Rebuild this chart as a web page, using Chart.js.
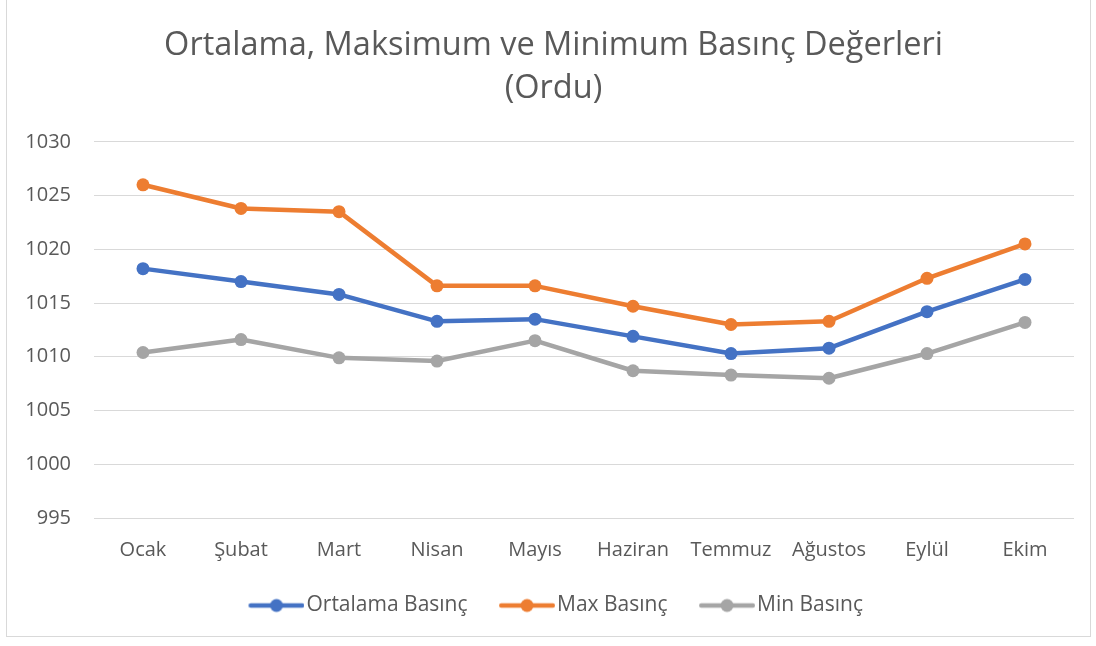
<!DOCTYPE html>
<html>
<head>
<meta charset="utf-8">
<script src="https://cdn.jsdelivr.net/npm/chart.js@4.4.1/dist/chart.umd.min.js"></script>
<style>
  html, body { margin: 0; padding: 0; background: #fff; }
  #frame { position: absolute; left: 6px; top: -1px; width: 1083px; height: 636px; border: 1px solid #d9d9d9; background: #fff; }
  #wrap { position: absolute; left: 0; top: 0; width: 1083px; height: 636px; }
</style>
</head>
<body>
<div id="frame"><div id="wrap"><canvas id="c"></canvas></div></div>
<script>
const categories = ["Ocak", "Şubat", "Mart", "Nisan", "Mayıs", "Haziran", "Temmuz", "Ağustos", "Eylül", "Ekim"];
const ortalamaBasinc = [1018.2, 1017.0, 1015.8, 1013.3, 1013.5, 1011.9, 1010.3, 1010.8, 1014.2, 1017.2];
const maxBasinc = [1026.0, 1023.8, 1023.5, 1016.6, 1016.6, 1014.7, 1013.0, 1013.3, 1017.3, 1020.5];
const minBasinc = [1010.4, 1011.6, 1009.9, 1009.6, 1011.5, 1008.7, 1008.3, 1008.0, 1010.3, 1013.2];
const seriesNames = ["Ortalama Basınç", "Max Basınç", "Min Basınç"];
const yTicks = [995, 1000, 1005, 1010, 1015, 1020, 1025, 1030];
const titleLines = ["Ortalama, Maksimum ve Minimum Basınç Değerleri", "(Ordu)"];

const colors = ["#4472C4", "#ED7D31", "#A5A5A5"];
const FONT = "'Open Sans', sans-serif";
const TEXT = "#595959";

function legendSymbol(color) {
  const cv = document.createElement('canvas');
  cv.width = 69; cv.height = 16;
  const g = cv.getContext('2d');
  g.strokeStyle = color; g.lineWidth = 4.5; g.lineCap = 'round';
  g.beginPath(); g.moveTo(15.25, 8); g.lineTo(66.75, 8); g.stroke();
  g.fillStyle = color;
  g.beginPath(); g.arc(41, 8, 6.5, 0, Math.PI * 2); g.fill();
  return cv;
}
const symbols = colors.map(legendSymbol);

const datasets = [ortalamaBasinc, maxBasinc, minBasinc].map((d, i) => ({
  label: seriesNames[i],
  data: d,
  borderColor: colors[i],
  backgroundColor: colors[i],
  borderWidth: 4.5,
  pointRadius: 6.5,
  pointHoverRadius: 6.5,
  pointBorderWidth: 0,
  tension: 0,
  borderCapStyle: 'round',
  borderJoinStyle: 'round',
  yAxisID: 'y'
}));

new Chart(document.getElementById('c'), {
  type: 'line',
  data: { labels: categories, datasets },
  options: {
    responsive: true,
    maintainAspectRatio: false,
    animation: false,
    layout: { padding: { left: 10, right: 0, top: 0, bottom: 10 } },
    plugins: {
      title: {
        display: true,
        text: titleLines,
        color: TEXT,
        font: { family: FONT, size: 32.5, weight: 'normal', lineHeight: 1.32 },
        padding: { top: 24, bottom: 32 }
      },
      legend: {
        position: 'bottom',
        labels: {
          color: TEXT,
          font: { family: FONT, size: 21 },
          usePointStyle: true,
          pointStyleWidth: 52,
          boxHeight: 14,
          padding: 27,
          generateLabels: (chart) => chart.data.datasets.map((ds, i) => ({
            text: ds.label,
            fillStyle: colors[i],
            strokeStyle: colors[i],
            lineWidth: 0,
            pointStyle: symbols[i],
            fontColor: TEXT,
            datasetIndex: i,
            hidden: false
          }))
        }
      },
      tooltip: { enabled: false }
    },
    scales: {
      x: {
        offset: true,
        grid: { display: false },
        border: { display: false },
        ticks: { color: TEXT, font: { family: FONT, size: 20 }, padding: 12, maxRotation: 0 },
        afterFit: (s) => { s.height = 50; }
      },
      y: {
        min: 995,
        max: 1030,
        afterBuildTicks: (s) => { s.ticks = yTicks.map(v => ({ value: v })); },
        grid: { color: '#d9d9d9', lineWidth: 1, drawTicks: false },
        border: { display: false },
        ticks: { color: TEXT, font: { family: FONT, size: 20 }, padding: 23, callback: (v) => String(v) },
        afterFit: (s) => { s.width = 77; }
      },
      y2: {
        position: 'right',
        min: 995,
        max: 1030,
        grid: { display: false, drawTicks: false },
        border: { display: false },
        ticks: { display: false },
        afterFit: (s) => { s.width = 16; }
      }
    }
  }
});
</script>
</body>
</html>
